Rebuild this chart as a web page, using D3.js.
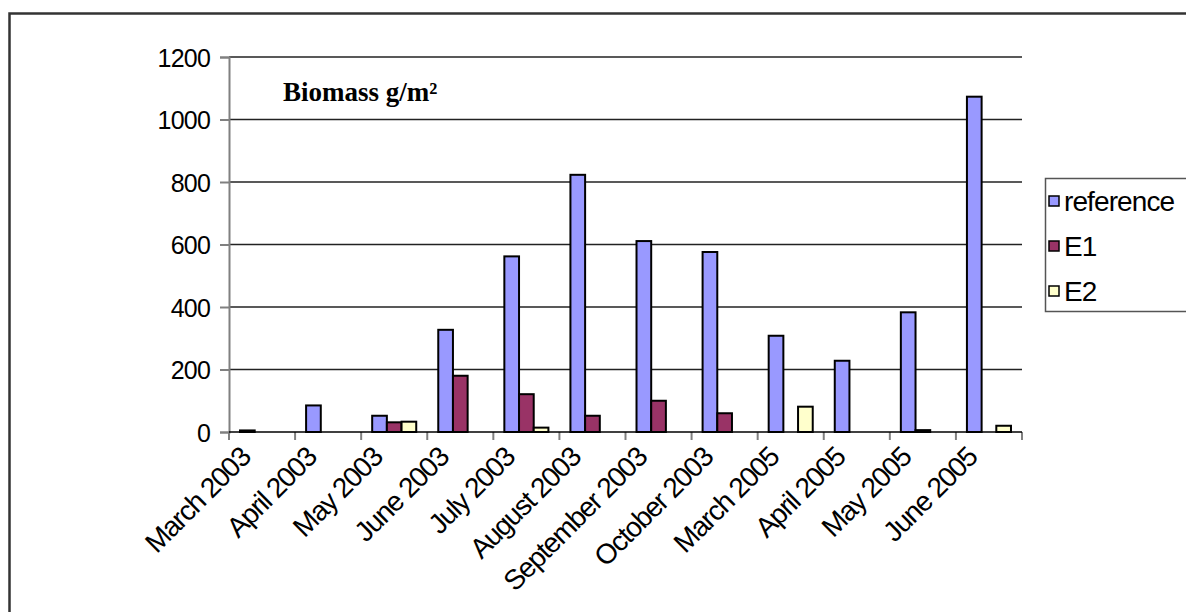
<!DOCTYPE html>
<html>
<head>
<meta charset="utf-8">
<script src="https://cdn.jsdelivr.net/npm/d3@7"></script>
<style>
  html, body { margin: 0; padding: 0; background: #fff; }
  svg { display: block; }
  .lbl { font-family: "Liberation Sans", Arial, sans-serif; font-size: 25px; letter-spacing: -0.8px; fill: #000; }
  .xl  { font-family: "Liberation Sans", Arial, sans-serif; font-size: 28px; letter-spacing: -1.3px; fill: #000; }
  .leg { font-family: "Liberation Sans", Arial, sans-serif; font-size: 28px; letter-spacing: -0.9px; fill: #000; }
</style>
</head>
<body>
<svg id="chart" width="1186" height="612"></svg>
<script>
// Sampling dates
const categories = [
  "March 2003", "April 2003", "May 2003", "June 2003", "July 2003",
  "August 2003", "September 2003", "October 2003", "March 2005",
  "April 2005", "May 2005", "June 2005"
];
// Biomass (g/m²) per series; null = no bar
const referenceValues = [5, 85, 52, 327, 562, 823, 611, 576, 308, 228, 383, 1073];
const e1Values        = [null, null, 31, 180, 121, 52, 100, 60, null, null, 6, null];
const e2Values        = [null, null, 33, null, 14, null, null, null, 81, null, null, 20];
const seriesNames  = ["reference", "E1", "E2"];
const seriesColors = ["#9999FF", "#993366", "#FFFFCC"];
const yTicks = [0, 200, 400, 600, 800, 1000, 1200];

const series = [referenceValues, e1Values, e2Values];

const svg = d3.select("#chart");

// outer frame (left and top edges)
svg.append("path")
  .attr("d", "M9.5,612 V13.5 H1186")
  .attr("fill", "none").attr("stroke", "#333").attr("stroke-width", 2.5);

const plot = { left: 229, right: 1022, top: 57, bottom: 432 };

const x0 = d3.scaleBand().domain(categories).range([plot.left, plot.right]).padding(0);
const bw = x0.bandwidth();
const x1 = d3.scaleBand().domain(seriesNames).range([bw * 0.75 / 4.5, bw * 3.75 / 4.5]).padding(0);
const y = d3.scaleLinear().domain([0, 1200]).range([plot.bottom, plot.top]);

// horizontal gridlines
svg.append("g").selectAll("line")
  .data(yTicks.filter(t => t > 0))
  .join("line")
  .attr("x1", plot.left).attr("x2", plot.right)
  .attr("y1", d => y(d)).attr("y2", d => y(d))
  .attr("stroke", "#222").attr("stroke-width", 1.3);

// bars
const groups = svg.append("g").selectAll("g")
  .data(series)
  .join("g")
  .attr("fill", (d, i) => seriesColors[i]);

groups.selectAll("rect")
  .data((vals, si) => vals.map((v, ci) => ({ v, ci, si })).filter(d => d.v != null))
  .join("rect")
  .attr("x", d => x0(categories[d.ci]) + x1(seriesNames[d.si]))
  .attr("width", x1.bandwidth())
  .attr("y", d => y(d.v))
  .attr("height", d => y(0) - y(d.v))
  .attr("stroke", "#000").attr("stroke-width", 2);

// y axis
const yAxis = d3.axisLeft(y).tickValues(yTicks).tickSize(9).tickPadding(10).tickFormat(d3.format("d"));
const gy = svg.append("g").attr("transform", `translate(${plot.left},0)`).call(yAxis);
gy.select(".domain").attr("stroke", "#808080").attr("stroke-width", 2);
gy.selectAll(".tick line").attr("stroke", "#808080").attr("stroke-width", 2);
gy.selectAll(".tick text").attr("class", "lbl").attr("font-size", null).attr("font-family", null).attr("dy", "0.36em");

// x axis: boundary ticks between categories
const boundaries = d3.range(categories.length + 1).map(i => plot.left + i * bw);
svg.append("g").selectAll("line")
  .data(boundaries)
  .join("line")
  .attr("x1", d => d).attr("x2", d => d)
  .attr("y1", plot.bottom).attr("y2", plot.bottom + 8)
  .attr("stroke", "#808080").attr("stroke-width", 2);
svg.append("line")
  .attr("x1", plot.left).attr("x2", plot.right)
  .attr("y1", plot.bottom).attr("y2", plot.bottom)
  .attr("stroke", "#000").attr("stroke-width", 1.5);

// rotated category labels
svg.append("g").selectAll("text")
  .data(categories)
  .join("text")
  .attr("class", "xl")
  .attr("text-anchor", "end")
  .attr("transform", d => `translate(${x0(d) + bw / 2 - 10},${plot.bottom + 27}) rotate(-45)`)
  .text(d => d);

// title
svg.append("text")
  .attr("x", 283).attr("y", 101)
  .attr("font-family", "'Liberation Serif', 'Times New Roman', serif")
  .attr("font-weight", "bold").attr("font-size", 27)
  .text("Biomass g/m²");

// legend
const lg = svg.append("g");
lg.append("rect")
  .attr("x", 1045.5).attr("y", 178.5).attr("width", 160).attr("height", 133)
  .attr("fill", "#fff").attr("stroke", "#555").attr("stroke-width", 1.5);
const items = lg.selectAll("g.item")
  .data(seriesNames)
  .join("g").attr("class", "item")
  .attr("transform", (d, i) => `translate(1049,${201 + i * 45})`);
items.append("rect")
  .attr("x", 0).attr("y", -5).attr("width", 10).attr("height", 10)
  .attr("fill", (d, i) => seriesColors[i]).attr("stroke", "#000").attr("stroke-width", 1.5);
items.append("text")
  .attr("class", "leg")
  .attr("x", 15).attr("y", 0).attr("dy", "0.36em")
  .text(d => d);
</script>
</body>
</html>
